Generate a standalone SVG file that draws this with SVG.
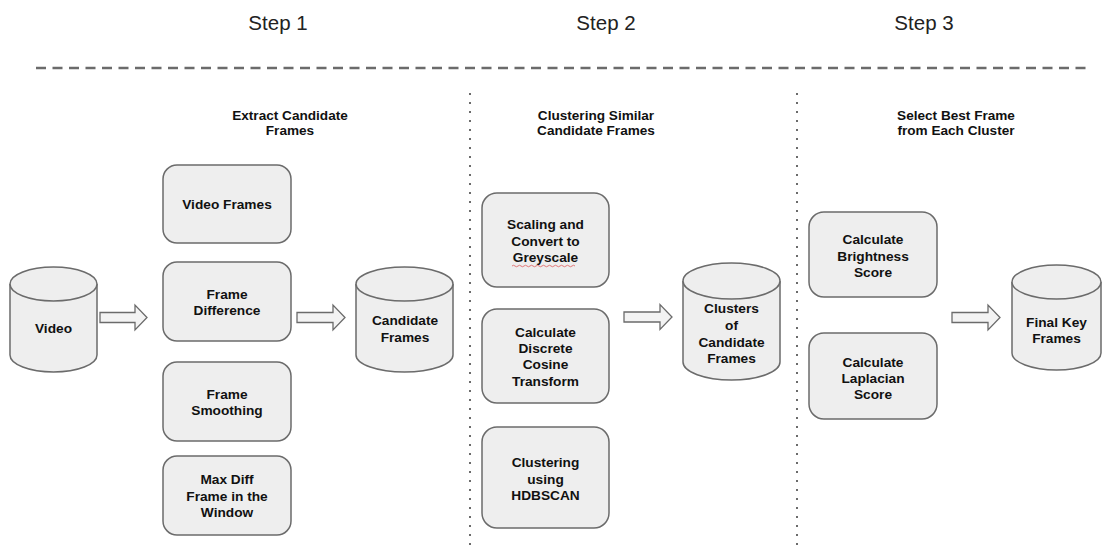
<svg xmlns="http://www.w3.org/2000/svg" width="1102" height="550" viewBox="0 0 1102 550">
<defs>
<style>
.step{font-family:"Liberation Sans",Arial,sans-serif;font-size:20.5px;fill:#222;text-anchor:middle}
.hdr{font-family:"Liberation Sans",Arial,sans-serif;font-size:13.6px;font-weight:bold;fill:#111;text-anchor:middle}
.t{font-family:"Liberation Sans",Arial,sans-serif;font-size:13.7px;font-weight:bold;fill:#111;text-anchor:middle}
.box{fill:#eeeeee;stroke:#6b6b6b;stroke-width:1.5}
.cyl{fill:#eeeeee;stroke:#6b6b6b;stroke-width:1.5}
.arr{fill:#f3f3f3;stroke:#6b6b6b;stroke-width:1.3;stroke-linejoin:miter}
.dash{stroke:#6b6b6b;stroke-width:2.6;stroke-dasharray:10 6.5;fill:none}
.dot{stroke:#6b6b6b;stroke-width:2;stroke-dasharray:2 7;fill:none}
</style>
</defs>
<rect width="1102" height="550" fill="#ffffff"/>

<g id="titles">
<text class="step" x="278" y="30">Step 1</text>
<text class="step" x="606" y="30">Step 2</text>
<text class="step" x="924" y="30">Step 3</text>
</g>

<g id="separators">
<line class="dash" x1="36" y1="68" x2="1090" y2="68"/>
<line class="dot" x1="470" y1="93" x2="470" y2="550"/>
<line class="dot" x1="797" y1="93" x2="797" y2="550"/>
</g>

<g id="headers">
<text class="hdr" x="290" y="120">Extract Candidate</text>
<text class="hdr" x="290" y="135">Frames</text>
<text class="hdr" x="596" y="120">Clustering Similar</text>
<text class="hdr" x="596" y="135">Candidate Frames</text>
<text class="hdr" x="956" y="120">Select Best Frame</text>
<text class="hdr" x="956" y="135">from Each Cluster</text>
</g>

<g id="video">
<path class="cyl" d="M10,284 A43.5,17 0 0 1 97,284 V355 A43.5,17 0 0 1 10,355 Z"/>
<path class="cyl" fill="none" d="M10,284 A43.5,17 0 0 0 97,284"/>
<text class="t" x="53.5" y="333">Video</text>
</g>

<g id="video-frames">
<rect class="box" x="163" y="165" width="128" height="78" rx="14"/>
<text class="t" x="227" y="209">Video Frames</text>
</g>

<g id="frame-difference">
<rect class="box" x="163" y="262" width="128" height="79" rx="14"/>
<text class="t" x="227" y="299">Frame</text>
<text class="t" x="227" y="315">Difference</text>
</g>

<g id="frame-smoothing">
<rect class="box" x="163" y="362" width="128" height="79" rx="14"/>
<text class="t" x="227" y="399">Frame</text>
<text class="t" x="227" y="415">Smoothing</text>
</g>

<g id="max-diff">
<rect class="box" x="163" y="456" width="128" height="79" rx="14"/>
<text class="t" x="227" y="484">Max Diff</text>
<text class="t" x="227" y="501">Frame in the</text>
<text class="t" x="227" y="517">Window</text>
</g>

<g id="candidate-frames">
<path class="cyl" d="M356,284 A48.5,17 0 0 1 453,284 V355 A48.5,17 0 0 1 356,355 Z"/>
<path class="cyl" fill="none" d="M356,284 A48.5,17 0 0 0 453,284"/>
<text class="t" x="405" y="325">Candidate</text>
<text class="t" x="405" y="342">Frames</text>
</g>

<g id="scaling">
<rect class="box" x="482" y="193" width="127" height="94" rx="15"/>
<text class="t" x="545.5" y="229">Scaling and</text>
<text class="t" x="545.5" y="246">Convert to</text>
<text class="t" x="545.5" y="262">Greyscale</text>
<path d="M512,266 q1.5,-1.5 3,0 t3,0 t3,0 t3,0 t3,0 t3,0 t3,0 t3,0 t3,0 t3,0 t3,0 t3,0 t3,0 t3,0 t3,0 t3,0 t3,0 t3,0 t3,0 t3,0 t3,0" fill="none" stroke="#e06a6a" stroke-width="0.9"/>
</g>

<g id="dct">
<rect class="box" x="482" y="309" width="127" height="94" rx="15"/>
<text class="t" x="545.5" y="337">Calculate</text>
<text class="t" x="545.5" y="353">Discrete</text>
<text class="t" x="545.5" y="369">Cosine</text>
<text class="t" x="545.5" y="386">Transform</text>
</g>

<g id="hdbscan">
<rect class="box" x="482" y="427" width="127" height="101" rx="15"/>
<text class="t" x="545.5" y="467">Clustering</text>
<text class="t" x="545.5" y="484">using</text>
<text class="t" x="545.5" y="500">HDBSCAN</text>
</g>

<g id="clusters">
<path class="cyl" d="M683,281 A48.5,18 0 0 1 780,281 V362 A48.5,18 0 0 1 683,362 Z"/>
<path class="cyl" fill="none" d="M683,281 A48.5,18 0 0 0 780,281"/>
<text class="t" x="731.5" y="313">Clusters</text>
<text class="t" x="731.5" y="330">of</text>
<text class="t" x="731.5" y="347">Candidate</text>
<text class="t" x="731.5" y="363">Frames</text>
</g>

<g id="brightness">
<rect class="box" x="809" y="212" width="128" height="85" rx="15"/>
<text class="t" x="873" y="244">Calculate</text>
<text class="t" x="873" y="261">Brightness</text>
<text class="t" x="873" y="277">Score</text>
</g>

<g id="laplacian">
<rect class="box" x="809" y="333" width="128" height="86" rx="15"/>
<text class="t" x="873" y="367">Calculate</text>
<text class="t" x="873" y="383">Laplacian</text>
<text class="t" x="873" y="399">Score</text>
</g>

<g id="final-key-frames">
<path class="cyl" d="M1012,282 A44.5,17 0 0 1 1101,282 V353 A44.5,17 0 0 1 1012,353 Z"/>
<path class="cyl" fill="none" d="M1012,282 A44.5,17 0 0 0 1101,282"/>
<text class="t" x="1056.5" y="327">Final Key</text>
<text class="t" x="1056.5" y="343">Frames</text>
</g>

<g id="connectors">
<polygon class="arr" points="100,312.5 135,312.5 135,305 147,317.5 135,330 135,322.5 100,322.5"/>
<polygon class="arr" points="297,312.5 333,312.5 333,305 345,317.5 333,330 333,322.5 297,322.5"/>
<polygon class="arr" points="624,312 660,312 660,304.5 672,317 660,329.5 660,322 624,322"/>
<polygon class="arr" points="952,312.5 988,312.5 988,305 1000,317.5 988,330 988,322.5 952,322.5"/>
</g>
</svg>
